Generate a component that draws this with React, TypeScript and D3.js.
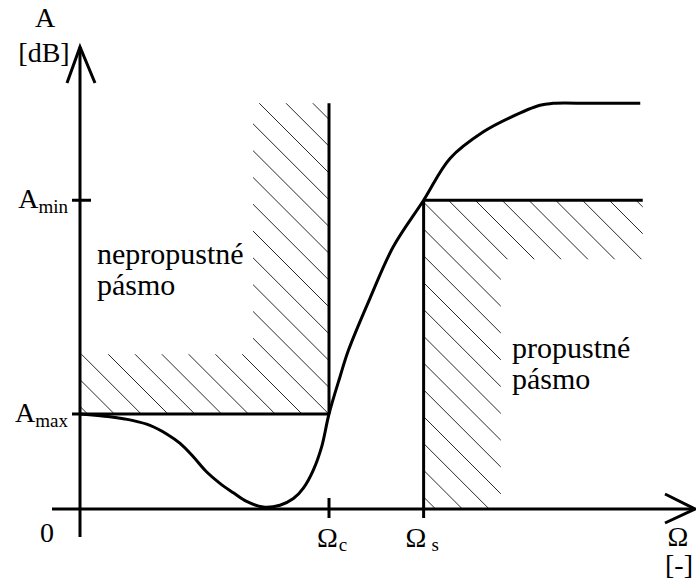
import * as d3 from "d3";

// values (Ω normalised so that Ω_c = 1, A normalised so that A_max = 1)
const freqNames = ["c", "s"];
const freqValues = [1.0, 1.38];

const levelNames = ["max", "min"];
const levelValues = [1.0, 3.25];

const curveTop = 4.27;

// attenuation curve
const curveOmega = [0, 0.12, 0.214, 0.281, 0.348, 0.402, 0.455, 0.509, 0.562, 0.616, 0.669, 0.736, 0.803, 0.857, 0.897, 0.937, 0.971, 1.0, 1.044, 1.078, 1.165, 1.258, 1.38, 1.486, 1.62, 1.727, 1.847, 1.9, 2.05, 2.25];
const curveA = [1.0, 0.97, 0.93, 0.88, 0.79, 0.69, 0.55, 0.39, 0.27, 0.17, 0.08, 0.02, 0.04, 0.11, 0.22, 0.41, 0.66, 1.0, 1.39, 1.67, 2.22, 2.76, 3.25, 3.69, 3.97, 4.12, 4.25, 4.27, 4.27, 4.27];

// hatched areas
const stopBandOmega = [0.695, 1.0, 1.0, 0, 0, 0.695];
const stopBandA = [4.27, 4.27, 1.0, 1.0, 1.63, 1.63];
const passBandOmega = [1.38, 2.26, 2.26, 1.69, 1.69, 1.38];
const passBandA = [3.25, 3.25, 2.63, 2.63, 0, 0];

const passEnd = 2.26;

const W = 696;
const H = 583;
const font = "'Liberation Serif', 'DejaVu Serif', 'Times New Roman', Times, serif";

function Hatch(props) {
  const { id, pts, phase } = props;
  const xs = pts.map((p) => p[0]);
  const ys = pts.map((p) => p[1]);
  const x0 = d3.min(xs), x1 = d3.max(xs), y0 = d3.min(ys), y1 = d3.max(ys);
  const step = 26.8;
  const cs = d3.range(x0 - y1 - step, x1 - y0 + step, step).map((c) => Math.round((c - phase) / step) * step + phase);
  return (
    <g>
      <clipPath id={id}>
        <polygon points={pts.map((p) => p.join(",")).join(" ")} />
      </clipPath>
      <g clipPath={`url(#${id})`}>
        {cs.map((c, i) => (
          <line key={i} x1={x0 - 2} y1={x0 - 2 - c} x2={x1 + 2} y2={x1 + 2 - c} stroke="#111" strokeWidth={0.9} />
        ))}
      </g>
    </g>
  );
}

export default function App() {
  const x = d3.scaleLinear().domain([0, 1]).range([80, 329]);
  const y = d3.scaleLinear().domain([0, 1]).range([509, 414]);

  const line = d3
    .line<[number, number]>()
    .x((d) => x(d[0]))
    .y((d) => y(d[1]))
    .curve(d3.curveCatmullRom.alpha(0.5));

  const curvePts = curveOmega.map((o, i) => [o, curveA[i]] as [number, number]);
  const stopPts = stopBandOmega.map((o, i) => [x(o), y(stopBandA[i])]);
  const passPts = passBandOmega.map((o, i) => [x(o), y(passBandA[i])]);

  const ox = x(0);
  const oy = y(0);
  const omegaC = freqValues[0];
  const omegaS = freqValues[1];
  const aMax = levelValues[0];
  const aMin = levelValues[1];

  return (
    <div style={{ fontFamily: font }}>
    <svg width={W} height={H} style={{ position: "absolute", left: 0, top: 0, background: "#fff" }}>
      <rect width={W} height={H} fill="#fff" />

      <Hatch id="stopHatch" pts={stopPts} phase={22} />
      <Hatch id="passHatch" pts={passPts} phase={7} />

      {/* axes */}
      <g stroke="#000" strokeWidth={3} fill="none">
        <line x1={ox} y1={oy + 28} x2={ox} y2={47} />
        <polyline points={`${ox - 13},83 ${ox},47 ${ox + 15},83`} />
        <line x1={52} y1={oy} x2={694} y2={oy} />
        <polyline points={`665,494 695,${oy} 665,523`} />
      </g>

      {/* tolerance scheme */}
      <g stroke="#000" strokeWidth={3} fill="none">
        <line x1={x(omegaC)} y1={y(curveTop)} x2={x(omegaC)} y2={y(aMax)} />
        <line x1={72} y1={y(aMax)} x2={x(omegaC)} y2={y(aMax)} />
        <line x1={x(omegaC)} y1={oy - 11} x2={x(omegaC)} y2={oy + 9} />
        <line x1={x(omegaS)} y1={oy + 9} x2={x(omegaS)} y2={y(aMin)} />
        <line x1={x(omegaS)} y1={y(aMin)} x2={x(passEnd)} y2={y(aMin)} />
        <line x1={72} y1={y(aMin)} x2={91} y2={y(aMin)} />
      </g>

      <path d={line(curvePts)} fill="none" stroke="#000" strokeWidth={3} strokeLinejoin="round" />

      {/* labels */}
      <g fill="#000" fontFamily={font}>
        <text x={45} y={27} fontSize={28} textAnchor="middle">A</text>
        <text x={44} y={62} fontSize={28} textAnchor="middle">[dB]</text>
        {levelNames.map((n, i) => (
          <text key={n} x={68} y={y(levelValues[i]) + 8} fontSize={28} textAnchor="end">
            A<tspan fontSize={19} dy={5}>{n}</tspan>
          </text>
        ))}
        <text x={47} y={542} fontSize={28} textAnchor="middle">0</text>
        {freqNames.map((n, i) => (
          <text key={n} x={x(freqValues[i]) - (i === 0 ? 12 : 18)} y={547} fontSize={28}>
            Ω<tspan fontSize={19} dy={4} dx={i === 0 ? 1 : 5}>{n}</tspan>
          </text>
        ))}
        <text x={678} y={546} fontSize={28} textAnchor="middle">Ω</text>
        <text x={679} y={574} fontSize={28} textAnchor="middle">[-]</text>

        <text x={97} y={264} fontSize={30}>nepropustné</text>
        <text x={97} y={295} fontSize={30}>pásmo</text>
        <text x={512} y={358} fontSize={30}>propustné</text>
        <text x={512} y={389} fontSize={30}>pásmo</text>
      </g>
    </svg>
    </div>
  );
}
